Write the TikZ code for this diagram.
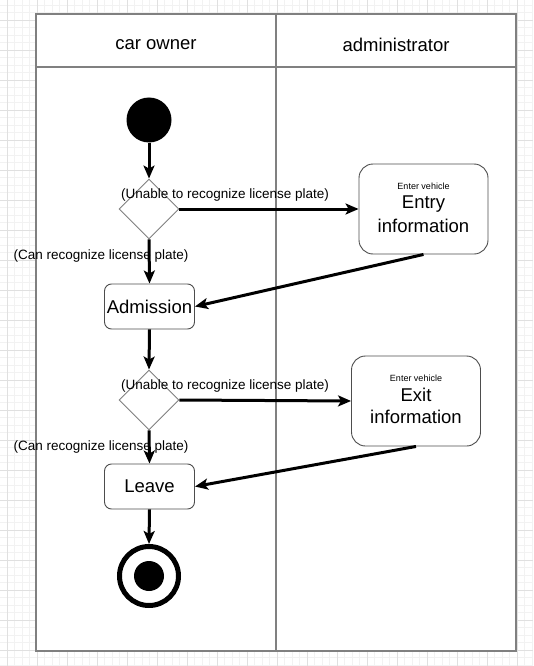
\documentclass[tikz,border=0pt]{standalone}
\usepackage{fontspec}
\setmainfont{Liberation Sans}
\usetikzlibrary{arrows.meta,shapes.geometric}
\definecolor{gridminor}{HTML}{F2F2F2}
\definecolor{gridmajor}{HTML}{E0E0E0}
\definecolor{lanegray}{HTML}{808080}
\definecolor{boxgray}{HTML}{4D4D4D}
\tikzset{
  minorgrid/.style={draw=gridminor,line width=0.8pt},
  majorgrid/.style={draw=gridmajor,line width=0.8pt},
  lane/.style={draw=lanegray,line width=1.2pt},
  header/.style={font=\fontsize{18.5}{20}\selectfont,inner sep=0pt},
  actbox/.style={draw=boxgray,line width=0.9pt,rounded corners=7pt,minimum width=90pt,minimum height=45pt,inner sep=0pt,font=\fontsize{18.5}{20}\selectfont},
  infobox/.style={draw=boxgray,line width=0.9pt,rounded corners=14pt,minimum width=129pt,minimum height=90pt,inner sep=0pt},
  smalltext/.style={font=\fontsize{9}{10}\selectfont,inner sep=0pt},
  bigtext/.style={font=\fontsize{18.5}{20}\selectfont,inner sep=0pt},
  decision/.style={diamond,draw=lanegray,line width=0.9pt,minimum width=60pt,minimum height=60pt,inner sep=0pt,fill=white},
  flow/.style={line width=3pt,-{Stealth[length=13pt,width=11pt,inset=3pt]}},
  edgelabel/.style={font=\fontsize{13.5}{15}\selectfont,inner sep=0pt},
}
\begin{document}
\begin{tikzpicture}[x=1pt,y=-1pt]
\useasboundingbox (0,0) rectangle (533,666);
\begin{scope}
\clip (0,0) rectangle (533,666);
\foreach \i in {0,...,72} {\draw[minorgrid] ({-0.5+7.5*\i},0) -- ++(0,666);}
\foreach \i in {0,...,89} {\draw[minorgrid] (0,{5+7.5*\i}) -- ++(533,0);}
\foreach \i in {0,...,18} {\draw[majorgrid] ({7+30*\i},0) -- ++(0,666);}
\foreach \i in {-1,...,22} {\draw[majorgrid] (0,{20+30*\i}) -- ++(533,0);}
\end{scope}
% pool
\draw[lane,fill=white] (36,14) rectangle (516,651);
\draw[lane] (36,67) -- (516,67);
\draw[lane] (276,14) -- (276,651);
\node[header] (h1) at (156,45) {car owner};
\node[header] (h2) at (396,45) {administrator};
% start
\node[circle,fill=black,minimum size=45pt,inner sep=0pt] (start) at (149,120) {};
% decisions
\node[decision] (d1) at (149,209) {};
\node[decision] (d2) at (149,400) {};
% activities
\node[actbox] (adm) at (149.5,306.5) {Admission};
\node[actbox] (leave) at (149.5,486.5) {Leave};
\node[infobox] (entry) at (423.5,209) {};
\node[smalltext] (entrya) at (423.5,186) {Enter vehicle};
\node[bigtext] (entryb) at (423.5,204) {Entry};
\node[bigtext] (entryc) at (423.5,226) {information};
\node[infobox] (exit) at (416,401) {};
\node[smalltext] (exita) at (416,378) {Enter vehicle};
\node[bigtext] (exitb) at (416,395) {Exit};
\node[bigtext] (exitc) at (416,417) {information};
% end
\node[circle,draw=black,line width=5pt,fill=white,minimum size=59pt,inner sep=0pt] (endo) at (149,576) {};
\node[circle,fill=black,minimum size=30pt,inner sep=0pt] (endi) at (149,576) {};
% flows
\draw[flow] (start) -- (d1.north);
\draw[flow] (d1.east) -- (entry.west);
\draw[flow] (d1.south) -- (adm.north);
\draw[flow] (entry.south) -- (adm.east);
\draw[flow] (adm.south) -- (d2.north);
\draw[flow] (d2.east) -- (exit.west);
\draw[flow] (d2.south) -- (leave.north);
\draw[flow] (exit.south) -- (leave.east);
\draw[flow] (leave.south) -- (endo.north);
% labels
\node[edgelabel] (l1) at (225,195.5) {(Unable to recognize license plate)};
\node[edgelabel] (l2) at (101,256) {(Can recognize license plate)};
\node[edgelabel] (l3) at (225,386.5) {(Unable to recognize license plate)};
\node[edgelabel] (l4) at (101,447.5) {(Can recognize license plate)};
\end{tikzpicture}
\end{document}
